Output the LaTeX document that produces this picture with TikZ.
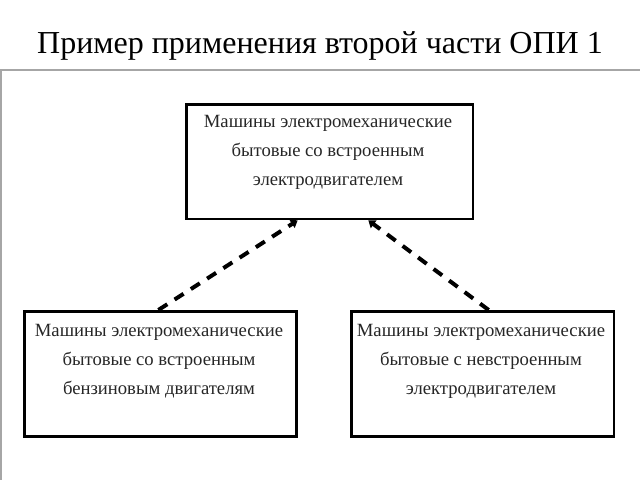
\documentclass[tikz,border=0pt]{standalone}
\usepackage{fontspec}
\setmainfont{Liberation Serif}
\usetikzlibrary{arrows.meta}
\tikzset{
  box/.style={draw=black, line width=2pt, inner sep=0pt, anchor=north west},
  boxtext/.style={align=center, inner sep=0pt, anchor=north, font=\fontsize{14}{21.4}\selectfont, text=black!85},
  dep/.style={line width=3pt, dash pattern=on 8pt off 6.5pt, -{Triangle[length=5pt,width=7pt]}},
  rule/.style={draw=black!35, line width=1.2pt}
}
\begin{document}
\begin{tikzpicture}[x=0.75pt,y=-0.75pt]
\useasboundingbox (0,0) rectangle (640,480);
\node[font=\fontsize{24}{28}\selectfont, anchor=base] (title) at (320,53) {Пример применения второй части ОПИ 1};
\coordinate (hl) at (0,70);
\coordinate (hr) at (640,70);
\coordinate (vb) at (1,480);
\draw[rule] (hr) -- (hl);
\draw[rule] (1,70) -- (vb);
\node[box, minimum width=215pt, minimum height=86pt] (top) at (185,103) {};
\node[box, minimum width=204pt, minimum height=94pt] (left) at (23,310) {};
\node[box, minimum width=197pt, minimum height=94pt] (right) at (350,310) {};
\node[boxtext] (ttop) at (328,115.5) {Машины электромеханические\\бытовые со встроенным\\электродвигателем};
\node[boxtext] (tleft) at (159,324.5) {Машины электромеханические\\бытовые со встроенным\\бензиновым двигателям};
\node[boxtext] (tright) at (481,324.5) {Машины электромеханические\\бытовые с невстроенным\\электродвигателем};
\draw[dep] ([xshift=-1.5pt]left.north) -- ([xshift=-24pt]top.south);
\draw[dep] ([xshift=4.5pt]right.north) -- ([xshift=29pt]top.south);
\end{tikzpicture}
\end{document}
